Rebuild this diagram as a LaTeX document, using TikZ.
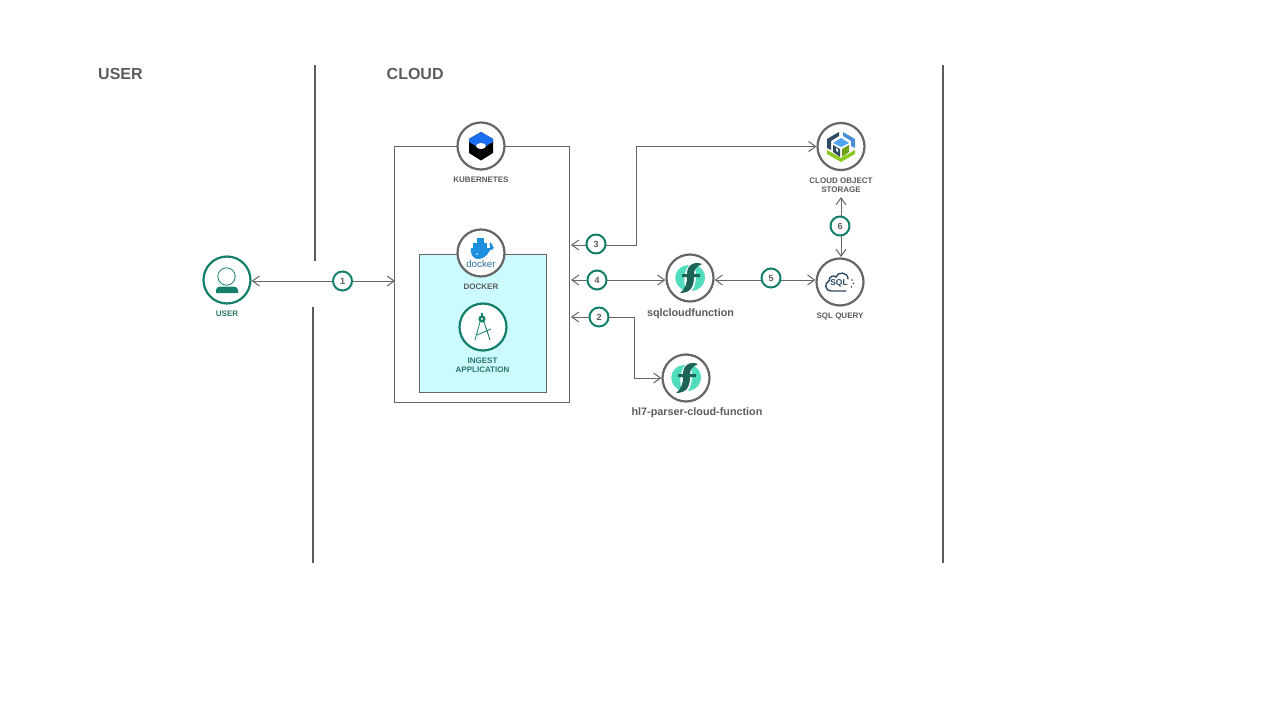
\documentclass[tikz,border=0pt]{standalone}
\usepackage{fontspec}
\setmainfont{Liberation Sans}
\usetikzlibrary{arrows.meta,calc}
\definecolor{ibmgreen}{HTML}{14806B}
\definecolor{labgray}{HTML}{5C5C5C}
\definecolor{linegray}{HTML}{666666}
\definecolor{mint}{HTML}{4FDDBE}
\definecolor{darkteal}{HTML}{1B6456}
\definecolor{dockerblue}{HTML}{1C90DC}
\definecolor{dockertext}{HTML}{2C6E9E}
\definecolor{paleblue}{HTML}{CCFBFF}
\definecolor{slate}{HTML}{2F4A63}
\definecolor{cosblue}{HTML}{4FA3F0}
\definecolor{cosgreen}{HTML}{8CC91E}
\definecolor{kubeblue}{HTML}{1A6FF0}
\tikzset{
  x=1pt,y=-1pt,
  every node/.style={font=\bfseries},
  divider/.style={draw=labgray,line width=1.5pt},
  heading/.style={text=labgray,font=\bfseries\fontsize{16}{16}\selectfont,inner sep=0},
  icon/.style={circle,draw=linegray,line width=2.2pt,fill=white,minimum size=47pt,inner sep=0},
  gicon/.style={icon,draw=ibmgreen},
  cap8/.style={text=labgray,font=\bfseries\fontsize{8}{9.5}\selectfont,align=center,inner sep=0},
  capg/.style={cap8,text=ibmgreen!70!labgray},
  cap11/.style={text=labgray,font=\bfseries\fontsize{10.8}{12}\selectfont,inner sep=0},
  badge/.style={circle,draw=ibmgreen,line width=2pt,fill=white,minimum size=19pt,inner sep=0,text=labgray,font=\bfseries\fontsize{9}{9}\selectfont},
  conn/.style={draw=linegray,line width=1pt,{Straight Barb[length=7pt,width=10pt]}-{Straight Barb[length=7pt,width=10pt]}},
  boxline/.style={draw=linegray,line width=0.8pt},
}
\newcommand{\fnicon}[1]{%
  \begin{scope}[shift={(#1)}]
    \fill[mint] (-1,-13) .. controls (-19,-12) and (-19,10) .. (-3,13) .. controls (-7,7) and (-7,-6) .. (-1,-13) -- cycle;
    \fill[mint] (2,13) .. controls (19,11) and (19,-11) .. (4,-13) .. controls (7,-7) and (7,6) .. (2,13) -- cycle;
    \fill[darkteal] (12,-14) .. controls (4,-17) and (-3,-13) .. (-3,-4) -- (-8,-4) -- (-8,-1) -- (-3,-1) .. controls (-3,5) and (-4,10) .. (-10,15) .. controls (1,15) and (4,8) .. (4,-1) -- (10,-1) -- (10,-4) -- (4,-4) .. controls (4,-9) and (7,-12) .. (12,-14) -- cycle;
  \end{scope}}
\begin{document}
\begin{tikzpicture}
\useasboundingbox (0,0) rectangle (1280,720);
\fill[white] (0,0) rectangle (1280,720);

% dividers
\coordinate (d1a) at (315,65); \coordinate (d1b) at (315,261);
\coordinate (d2a) at (313,307); \coordinate (d2b) at (313,563);
\coordinate (d3a) at (943,65); \coordinate (d3b) at (943,563);
\draw[divider] (d1a) -- (d1b);
\draw[divider] (d2a) -- (d2b);
\draw[divider] (d3a) -- (d3b);

\node[heading,anchor=west] (huser) at (98,74) {USER};
\node[heading,anchor=west] (hcloud) at (386.5,74) {CLOUD};

% containers
\node[boxline,rectangle,minimum width=175pt,minimum height=256pt,inner sep=0] (kbox) at (482,274.5) {};
\node[boxline,rectangle,fill=paleblue,minimum width=127pt,minimum height=138pt,inner sep=0] (dbox) at (482.5,323) {};

% icon nodes
\node[gicon] (user) at (227,280) {};
\node[icon] (kube) at (481,146) {};
\node[icon] (docker) at (481,253) {};
\node[gicon] (ingest) at (483,327) {};
\node[icon] (cos) at (841,146.5) {};
\node[icon] (sqlfn) at (690,278) {};
\node[icon] (hl7) at (686,378) {};
\node[icon] (sql) at (840,282) {};

% labels
\node[capg] (luser) at (227,314) {USER};
\node[cap8] (lkube) at (481,180) {KUBERNETES};
\node[cap8] (ldocker) at (481,287) {DOCKER};
\node[capg] (lingest) at (482.5,365) {INGEST\\APPLICATION};
\node[cap8] (lcos) at (841,185) {CLOUD OBJECT\\STORAGE};
\node[cap8] (lsql) at (840,316) {SQL QUERY};
\node[cap11] (lsqlfn) at (690.5,314) {sqlcloudfunction};
\node[cap11] (lhl7) at (697,413) {hl7-parser-cloud-function};

% connector free ends and bends
\coordinate (k1) at (395,281);
\coordinate (k3) at (571,245);
\coordinate (k4) at (571,280);
\coordinate (k2) at (571,317);
\coordinate (b3a) at (636,245);
\coordinate (b3b) at (636,146.5);
\coordinate (b2a) at (634,317);
\coordinate (b2b) at (634,378);
\coordinate (c6) at (841,197);
\coordinate (c6b) at (841,257);

\draw[conn] (user.east |- k1) -- (k1);
\draw[conn] (k3) -- (b3a) -- (b3b) -- (cos.west);
\draw[conn] (k4) -- (sqlfn.west |- k4);
\draw[conn] (k2) -- (b2a) -- (b2b) -- (hl7.west);
\draw[conn] (sqlfn.east |- k4) -- (sql.west |- k4);
\draw[conn] (c6) -- (c6b);

% badges
\node[badge] (n1) at (342.5,281) {1};
\node[badge] (n2) at (599,317) {2};
\node[badge] (n3) at (596,244) {3};
\node[badge] (n4) at (597,280) {4};
\node[badge] (n5) at (771,278) {5};
\node[badge] (n6) at (840,226) {6};

% kubernetes icon
\begin{scope}[shift={(481,146)}]
  \fill[black] (0,-14) -- (12,-7) -- (12,7) -- (0,14.5) -- (-12,7) -- (-12,-7) -- cycle;
  \fill[kubeblue] (0,-14) -- (12,-7) -- (12,-4) -- (5,0) -- (-5,0) -- (-12,-4) -- (-12,-7) -- cycle;
  \fill[white] (0,0) ellipse (5 and 3);
\end{scope}

% docker icon
\begin{scope}[shift={(481,253)}]
  \fill[dockerblue] (-10,-5) -- (9,-5) .. controls (9,-8) and (8,-10) .. (9,-11) .. controls (11,-10) and (12,-7) .. (12,-6) -- (13,-5) .. controls (11,-3) and (10,-3) .. (9,-3) .. controls (6,3) and (2,6) .. (-3,6) .. controls (-8,6) and (-11,1) .. (-10,-5) -- cycle;
  \fill[dockerblue] (-8,-10) rectangle (6,-4);
  \fill[dockerblue] (-4,-15) rectangle (3,-9);
  \fill[white] (-4,1) circle (0.8);
  \node[text=dockertext,font=\fontsize{9.8}{10}\selectfont,inner sep=0] (dtxt) at (0,11) {docker};
\end{scope}

% ingest compass icon
\begin{scope}[shift={(483,327)},ibmgreen]
  \fill (-1,-8) circle (3.6);
  \fill (-1.8,-14) rectangle (-0.2,-10);
  \fill[white] (-1,-8) circle (1.2);
  \draw[line width=0.8pt] (-3,-5) -- (-8,13);
  \draw[line width=0.8pt] (1,-5) -- (7,13);
  \draw[line width=0.8pt] (-6,8) -- (8,2);
\end{scope}

% user icon
\begin{scope}[shift={(227,280)},ibmgreen]
  \draw[line width=0.8pt] (-0.5,-3.5) circle (8.7);
  \fill (-11,13) -- (-11,10) .. controls (-11,8) and (-9,6.7) .. (-7,6.7) -- (7,6.7) .. controls (9,6.7) and (11,8) .. (11,10) -- (11,13) -- cycle;
\end{scope}

% cloud object storage icon
\begin{scope}[shift={(841,147)}]
  \fill[cosblue] (-8,-4) -- (0,-9) -- (8,-4) -- (0,0) -- cycle;
  \fill[slate] (-8,-2) -- (-1,2) -- (-1,10) -- (-8,5) -- cycle;
  \fill[cosgreen!80!black] (1,2) -- (8,-2) -- (8,5) -- (1,10) -- cycle;
  \fill[white] (-5,1) -- (-3,2.2) -- (-3,5) -- (-5,3.8) -- cycle;
  \fill[slate] (-14,-8) -- (-2,-15) -- (-2,-11) -- (-10,-6) -- (-10,3) -- (-14,1) -- cycle;
  \fill[cosblue!80!slate] (2,-15) -- (14,-8) -- (14,1) -- (10,-1) -- (10,-6) -- (2,-11) -- cycle;
  \fill[cosgreen] (-14,3) -- (0,11) -- (14,3) -- (14,7) -- (0,15) -- (-14,7) -- cycle;
\end{scope}

% sql icon
\begin{scope}[shift={(840,282)},slate]
  \draw[line width=1.4pt,line cap=round] (6,9) -- (-9,9) .. controls (-15,9) and (-16,1) .. (-11,-1) .. controls (-11,-6) and (-6,-7) .. (-4,-5) .. controls (-2,-11) and (8,-10) .. (8,-3);
  \node[text=slate,font=\bfseries\fontsize{8.5}{9}\selectfont,inner sep=0] (sqltxt) at (-1,1) {SQL};
  \fill (12,-2) circle (0.9); \fill (13.5,1.5) circle (0.9); \fill (11.5,5) circle (0.9);
\end{scope}

\fnicon{690,278}
\fnicon{686,378}
\end{tikzpicture}
\end{document}
